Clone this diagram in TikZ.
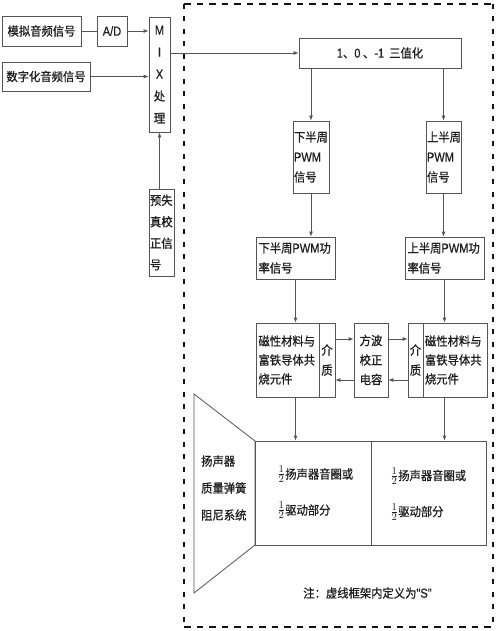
\documentclass[tikz,border=0pt]{standalone}
\usepackage{fontspec}
\setmainfont{Noto Sans CJK SC}[FakeStretch=0.92,FakeBold=0.7]
\newfontfamily\latinf{Liberation Sans}[FakeStretch=0.85,FakeBold=0.5]
\usetikzlibrary{arrows.meta,calc}
\definecolor{linec}{RGB}{85,85,85}
\definecolor{textc}{RGB}{30,30,30}
\definecolor{framec}{RGB}{20,20,20}
\newcommand{\halfsym}{\raisebox{0.5pt}{\scalebox{1.15}{$\frac{1}{2}$}}}
\begin{document}
\begin{tikzpicture}[x=1pt,y=-1pt,
  box/.style={draw=linec,line width=0.8pt,inner sep=0pt,text=textc,font=\fontsize{12.3}{20}\selectfont},
  lbox/.style={box,align=left},
  txt/.style={inner sep=0pt,text=textc,font=\fontsize{12.3}{20}\selectfont},
  conn/.style={draw=linec,line width=0.8pt},
  arr/.style={conn,-{Latex[length=5pt,width=4pt]}},
  hdash/.style={draw=framec,line width=2.8pt,dash pattern=on 6.5pt off 6pt},
  vdash/.style={draw=framec,line width=2.8pt,dash pattern=on 5pt off 7.5pt}]
\useasboundingbox (0,0) rectangle (500,631);
\fill[white] (0,0) rectangle (500,631);

% dashed frame
\coordinate (fTL) at (184,4);
\coordinate (fTR) at (493,4);
\coordinate (fBL) at (184,627);
\coordinate (fBR) at (493,627);
\draw[hdash] (fTL) -- (fTR);
\draw[hdash] (fBL) -- (fBR);
\draw[vdash] (fTL) -- (fBL);
\draw[vdash] (fTR) -- (fBR);

% left part
\node[box,minimum width=79,minimum height=30] (analog) at (41.5,31) {模拟音频信号};
\node[box,minimum width=30,minimum height=30] (ad) at (112,31) {{\latinf\fontsize{13}{20}\selectfont A/D}};
\node[box,minimum width=88,minimum height=29] (digital) at (46,76.5) {数字化音频信号};
\node[box,minimum width=21,minimum height=115,align=center,font=\fontsize{12.3}{22}\selectfont] (mix) at (159.5,74.5) {{\latinf\fontsize{13}{22}\selectfont M}\\{\latinf\fontsize{13}{22}\selectfont I}\\{\latinf\fontsize{13}{22}\selectfont X}\\处\\理};
\node[box,minimum width=25,minimum height=87,align=left,text width=23,font=\fontsize{12.3}{21.5}\selectfont] (pre) at (161.5,232.5) {预失\\真校\\正信\\号};

\draw[conn] (analog.east) -- (ad.west);
\draw[arr] (ad.east) -- (ad.east -| mix.west);
\draw[arr] (digital.east) -- (digital.east -| mix.west);
\draw[arr] (mix.south |- pre.north) -- (mix.south);

% ternary
\node[box,minimum width=162,minimum height=30] (tern) at (380,53) {{\latinf\fontsize{13}{20}\selectfont 1}、{\latinf\fontsize{13}{20}\selectfont 0} 、{\latinf\fontsize{13}{20}\selectfont -1}\ \ 三值化};
\draw[arr] (mix.east |- tern.west) -- (tern.west);

% PWM
\node[lbox,minimum width=36,minimum height=72,text width=34] (pwmL) at (311,157) {下半周\\{\latinf\fontsize{13}{20}\selectfont PWM}\\信号};
\node[lbox,minimum width=35,minimum height=72,text width=33] (pwmR) at (443.5,157) {上半周\\{\latinf\fontsize{13}{20}\selectfont PWM}\\信号};
\draw[arr] (pwmL.north |- tern.south) -- (pwmL.north);
\draw[arr] (pwmR.north |- tern.south) -- (pwmR.north);

% power
\node[lbox,minimum width=79,minimum height=42,text width=74] (powL) at (295.5,258) {下半周{\latinf\fontsize{13}{20}\selectfont PWM}功\\率信号};
\node[lbox,minimum width=79,minimum height=42,text width=74] (powR) at (444.5,258) {上半周{\latinf\fontsize{13}{20}\selectfont PWM}功\\率信号};
\draw[arr] (pwmL.south) -- (pwmL.south |- powL.north);
\draw[arr] (pwmR.south) -- (pwmR.south |- powR.north);

% magnetic
\node[lbox,minimum width=63,minimum height=74,text width=58,font=\fontsize{12.3}{19}\selectfont] (magL) at (287.5,360) {磁性材料与\\富铁导体共\\烧元件};
\node[box,minimum width=16,minimum height=74,align=center] (medL) at (327,360) {介\\质};
\node[box,minimum width=34,minimum height=74,align=center,font=\fontsize{12.3}{19.5}\selectfont] (cap) at (371,360) {方波\\校正\\电容};
\node[box,minimum width=15,minimum height=74,align=center] (medR) at (415.5,360) {介\\质};
\node[lbox,minimum width=64,minimum height=74,text width=60,font=\fontsize{12.3}{19}\selectfont] (magR) at (455,360) {磁性材料与\\富铁导体共\\烧元件};

\draw[arr] (powL.south) -- (powL.south |- magL.north);
\draw[arr] (powR.south) -- (powR.south |- magR.north);

\draw[arr] ($(medL.east)+(0,-21)$) -- ($(cap.west)+(0,-21)$);
\draw[arr] ($(cap.east)+(0,-21)$) -- ($(medR.west)+(0,-21)$);
\draw[arr] ($(medR.west)+(0,20)$) -- ($(cap.east)+(0,20)$);
\draw[arr] ($(cap.west)+(0,20)$) -- ($(medL.east)+(0,20)$);

% speaker
\coordinate (sp1) at (194,394);
\coordinate (sp2) at (255,441);
\coordinate (sp3) at (255,545);
\coordinate (sp4) at (194,593);
\draw[linec,line width=0.8pt] (sp1) -- (sp2) -- (sp3) -- (sp4) -- cycle;
\node[txt,anchor=west,align=left,font=\fontsize{12.3}{27}\selectfont] (spk) at (201,488) {扬声器\\质量弹簧\\阻尼系统};

\node[box,minimum width=116,minimum height=104] (coilL) at (313,493) {};
\node[box,minimum width=115,minimum height=104] (coilR) at (428.5,493) {};
\node[txt,anchor=west,align=left,font=\fontsize{12.3}{36}\selectfont] (cL) at (277,492.5) {\halfsym 扬声器音圈或\\\halfsym 驱动部分};
\node[txt,anchor=west,align=left,font=\fontsize{12.3}{36}\selectfont] (cR) at (390,494) {\halfsym 扬声器音圈或\\\halfsym 驱动部分};

\draw[arr] (powL.south |- magL.south) -- (powL.south |- coilL.north);
\draw[arr] (powR.south |- magR.south) -- (powR.south |- coilR.north);

\node[txt] (note) at (367.5,593) {注：虚线框架内定义为{\latinf\fontsize{13}{20}\selectfont "S"}};
\end{tikzpicture}
\end{document}
